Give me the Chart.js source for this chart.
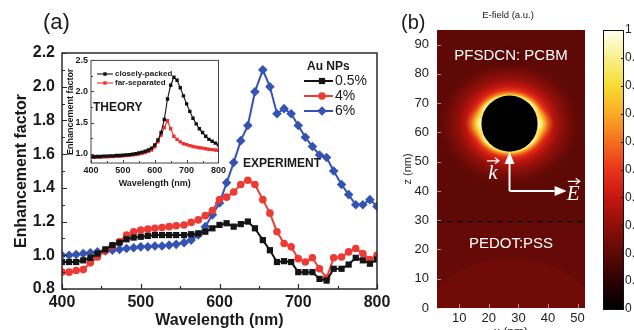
<!DOCTYPE html>
<html>
<head>
<meta charset="utf-8">
<script src="https://cdn.jsdelivr.net/npm/chart.js@4.4.1/dist/chart.umd.min.js"></script>
<style>
  html, body { margin: 0; padding: 0; background: #fff; }
  #wrap { position: relative; width: 634px; height: 330px; overflow: hidden; background: #fff; }
  canvas { position: absolute; }
  #mainChart { left: 0; top: 0; }
  #insetChart { left: 63px; top: 52px; }
  #fieldChart { left: 400px; top: 0; }
  #cbChart { left: 603px; top: 0; }
</style>
</head>
<body>
<div id="wrap">
  <canvas id="mainChart" width="400" height="330"></canvas>
  <canvas id="insetChart" width="165" height="138"></canvas>
  <canvas id="fieldChart" width="234" height="330"></canvas>
  <canvas id="cbChart" width="31" height="330"></canvas>
</div>
<script>
// ---- (a) experiment: enhancement factor vs wavelength ----
const wavelength = [400, 409, 418, 427, 436, 445, 455, 464, 473, 482, 491, 500, 509, 518, 527,
  536, 545, 555, 564, 573, 582, 591, 600, 609, 618, 627, 636, 645, 655, 664, 673, 682, 691,
  700, 709, 718, 727, 736, 745, 755, 764, 773, 782, 791, 800];
const np05 = [0.96, 0.96, 0.96, 0.97, 0.985, 1.01, 1.035, 1.06, 1.075, 1.095, 1.105, 1.11, 1.115,
  1.12, 1.12, 1.12, 1.12, 1.12, 1.125, 1.13, 1.14, 1.16, 1.18, 1.19, 1.17, 1.185, 1.20, 1.16,
  1.09, 1.03, 0.96, 0.965, 0.96, 0.90, 0.90, 0.90, 0.86, 0.85, 0.92, 0.92, 0.945, 0.985, 0.97,
  0.95, 0.975];
const np4 = [0.90, 0.90, 0.91, 0.915, 0.955, 0.99, 1.025, 1.055, 1.08, 1.12, 1.14, 1.15, 1.155,
  1.16, 1.165, 1.17, 1.175, 1.18, 1.195, 1.21, 1.235, 1.265, 1.33, 1.345, 1.375, 1.42, 1.445,
  1.42, 1.33, 1.25, 1.14, 1.07, 1.05, 0.98, 0.96, 0.985, 0.92, 0.865, 0.985, 0.99, 1.02, 1.04,
  1.01, 0.975, 1.0];
const np6 = [1.00, 1.00, 1.005, 1.01, 1.015, 1.02, 1.025, 1.03, 1.035, 1.04, 1.045, 1.05, 1.05,
  1.055, 1.055, 1.06, 1.065, 1.075, 1.09, 1.12, 1.17, 1.24, 1.31, 1.43, 1.55, 1.68, 1.77, 1.97,
  2.10, 2.00, 1.84, 1.87, 1.84, 1.77, 1.70, 1.645, 1.595, 1.58, 1.50, 1.42, 1.36, 1.30, 1.30,
  1.33, 1.29];
const seriesLabels = ['0.5%', '4%', '6%'];
const xTicksMain = [400, 500, 600, 700, 800];
const yTicksMain = [0.8, 1.0, 1.2, 1.4, 1.6, 1.8, 2.0, 2.2];

// ---- (a) inset: theory ----
const wlTheory = [400, 410, 420, 430, 440, 450, 460, 470, 480, 490, 500, 510, 520, 530, 540,
  550, 560, 570, 580, 590, 600, 610, 620, 630, 640, 650, 660, 670, 680, 690, 700, 710, 720,
  730, 740, 750, 760, 770, 780, 790, 800];
const closelyPacked = [0.95, 0.95, 0.955, 0.955, 0.96, 0.96, 0.965, 0.965, 0.97, 0.97, 0.975,
  0.98, 0.985, 0.99, 1.0, 1.01, 1.025, 1.04, 1.06, 1.09, 1.14, 1.22, 1.34, 1.55, 1.88, 2.10,
  2.23, 2.18, 2.06, 1.93, 1.80, 1.68, 1.57, 1.48, 1.40, 1.34, 1.28, 1.23, 1.20, 1.17, 1.14];
const farSeparated = [0.94, 0.94, 0.945, 0.945, 0.95, 0.95, 0.955, 0.955, 0.96, 0.96, 0.965,
  0.97, 0.975, 0.98, 0.985, 0.995, 1.005, 1.02, 1.04, 1.06, 1.11, 1.19, 1.30, 1.42, 1.53, 1.40,
  1.28, 1.23, 1.19, 1.16, 1.145, 1.13, 1.115, 1.105, 1.095, 1.09, 1.08, 1.07, 1.065, 1.06, 1.055];
const theoryLabels = ['closely-packed', 'far-separated'];
const xTicksInset = [400, 500, 600, 700, 800];
const yTicksInset = [1.0, 1.5, 2.0, 2.5];

// ---- (b) E-field map ----
const xTicksField = [10, 20, 30, 40, 50];
const zTicksField = [0, 10, 20, 30, 40, 50, 60, 70, 80, 90];
const cbTicks = [0, 0.1, 0.2, 0.3, 0.4, 0.5, 0.6, 0.7, 0.8, 0.9, 1];
const cmapColors = ['#000000', '#2b0201', '#5e0906', '#8e0f09', '#c4170e', '#e8341a',
  '#f4701e', '#f8ab25', '#f6dc33', '#f8f08a', '#fffff2'];

const FONT = "'Liberation Sans', Arial, Helvetica, sans-serif";
const FONT_B = "'Liberation Sans Narrow', 'Arial Narrow', 'Liberation Sans', Arial, sans-serif";
const SERIF = "'Liberation Serif', 'DejaVu Serif', serif";
const C_BLACK = '#141414', C_RED = '#ec3b34', C_BLUE = '#3553b1';

const pts = (xs, ys) => xs.map((v, i) => ({ x: v, y: ys[i] }));
const fixedTicks = arr => scale => { scale.ticks = arr.map(v => ({ value: v })); };
const noGrid = { display: false, drawTicks: false };

function drawMarker(ctx, style, r, x, y) {
  if (Chart.helpers && Chart.helpers.drawPoint) {
    Chart.helpers.drawPoint(ctx, { pointStyle: style, radius: r, borderWidth: 0, rotation: 0 }, x, y);
    return;
  }
  ctx.beginPath();
  ctx.arc(x, y, r, 0, Math.PI * 2);
  ctx.fill();
}

// 坐标框和朝内的刻度
function makeFrameTicks(cfg) {
  return {
    id: 'frameTicks',
    afterDatasetsDraw(chart) {
      const { ctx, chartArea: a } = chart;
      const xs = chart.scales.x, ys = chart.scales.y;
      const mids = t => t.slice(1).map((v, i) => (v + t[i]) / 2);
      ctx.save();
      ctx.strokeStyle = cfg.color;
      ctx.lineWidth = cfg.tickWidth;
      ctx.beginPath();
      const xMarks = [[cfg.xTicks, cfg.major]];
      const yMarks = [[cfg.yTicks, cfg.major]];
      if (cfg.minor) { xMarks.push([mids(cfg.xTicks), cfg.minor]); yMarks.push([mids(cfg.yTicks), cfg.minor]); }
      xMarks.forEach(([vals, len]) => vals.forEach(v => {
        const p = Math.round(xs.getPixelForValue(v)) + 0.5;
        ctx.moveTo(p, a.bottom); ctx.lineTo(p, a.bottom - len);
      }));
      yMarks.forEach(([vals, len]) => vals.forEach(v => {
        const p = Math.round(ys.getPixelForValue(v)) + 0.5;
        ctx.moveTo(a.left, p); ctx.lineTo(a.left + len, p);
      }));
      ctx.stroke();
      if (cfg.frameWidth) {
        ctx.lineWidth = cfg.frameWidth;
        ctx.strokeRect(a.left, a.top, a.right - a.left, a.bottom - a.top);
      }
      ctx.restore();
    }
  };
}

// 图例：线段 + 标记 + 文字
function makeLegend(cfg) {
  return {
    id: 'seriesLegend',
    afterDatasetsDraw(chart) {
      const ctx = chart.ctx;
      ctx.save();
      ctx.textBaseline = 'middle';
      ctx.textAlign = 'left';
      ctx.fillStyle = cfg.color;
      if (cfg.title) { ctx.font = cfg.titleFont; ctx.fillText(cfg.title, cfg.titleX, cfg.titleY); }
      ctx.font = cfg.font;
      chart.data.datasets.forEach((ds, i) => {
        const y = cfg.y + i * cfg.rowH;
        ctx.strokeStyle = ds.borderColor;
        ctx.lineWidth = ds.borderWidth;
        ctx.beginPath(); ctx.moveTo(cfg.x, y); ctx.lineTo(cfg.x + cfg.lineLen, y); ctx.stroke();
        ctx.fillStyle = ds.backgroundColor;
        drawMarker(ctx, ds.pointStyle, ds.pointRadius, cfg.x + cfg.markerAt, y);
        ctx.fillStyle = cfg.color;
        ctx.fillText(ds.label, cfg.x + cfg.lineLen + cfg.gap, y);
      });
      ctx.restore();
    }
  };
}

function makeText(items) {
  return {
    id: 'textMarks',
    afterDraw(chart) {
      const ctx = chart.ctx;
      ctx.save();
      items.forEach(t => {
        ctx.font = t.font;
        ctx.fillStyle = t.color || '#1a1a1a';
        ctx.textAlign = t.align || 'left';
        ctx.textBaseline = 'middle';
        ctx.fillText(t.text, t.x, t.y);
      });
      ctx.restore();
    }
  };
}

// ---------- 主图 (a) ----------
new Chart(document.getElementById('mainChart'), {
  type: 'line',
  data: {
    datasets: [
      { label: seriesLabels[0], data: pts(wavelength, np05), borderColor: C_BLACK, backgroundColor: C_BLACK,
        pointStyle: 'rect', pointRadius: 4.4, pointBorderWidth: 0, borderWidth: 2 },
      { label: seriesLabels[1], data: pts(wavelength, np4), borderColor: C_RED, backgroundColor: C_RED,
        pointStyle: 'circle', pointRadius: 3.8, pointBorderWidth: 0, borderWidth: 2 },
      { label: seriesLabels[2], data: pts(wavelength, np6), borderColor: C_BLUE, backgroundColor: C_BLUE,
        pointStyle: 'rectRot', pointRadius: 4.8, pointBorderWidth: 0, borderWidth: 2 }
    ]
  },
  options: {
    responsive: false,
    animation: false,
    devicePixelRatio: 1,
    layout: { padding: { left: 0, top: 53, right: 23, bottom: 0 } },
    elements: { line: { tension: 0 } },
    plugins: { legend: { display: false }, tooltip: { enabled: false } },
    scales: {
      x: {
        type: 'linear', min: 400, max: 800,
        afterBuildTicks: fixedTicks(xTicksMain),
        afterFit: s => { s.height = 41; },
        grid: noGrid, border: { display: false },
        ticks: { padding: 4, color: '#1a1a1a', maxRotation: 0, autoSkip: false,
          font: { family: FONT, size: 16, weight: 'bold' } },
        title: { display: true, text: 'Wavelength (nm)', color: '#1a1a1a',
          font: { family: FONT, size: 16, weight: 'bold' }, padding: { top: 0, bottom: 0 } }
      },
      y: {
        type: 'linear', min: 0.8, max: 2.2,
        afterBuildTicks: fixedTicks(yTicksMain),
        afterFit: s => { s.width = 62; },
        grid: noGrid, border: { display: false },
        ticks: { padding: 7, color: '#1a1a1a', autoSkip: false, callback: v => v.toFixed(1),
          font: { family: FONT, size: 16, weight: 'bold' } },
        title: { display: true, text: 'Enhancement factor', color: '#1a1a1a',
          font: { family: FONT, size: 16, weight: 'bold' }, padding: { top: 12, bottom: 0 } }
      }
    }
  },
  plugins: [
    makeFrameTicks({ color: '#2a2a2a', tickWidth: 1.2, frameWidth: 1.5, major: 5, minor: 3,
      xTicks: xTicksMain, yTicks: yTicksMain }),
    makeLegend({ title: 'Au NPs', titleX: 307, titleY: 67, titleFont: `bold 12px ${FONT}`,
      font: `14px ${FONT}`, color: '#1a1a1a', x: 304, y: 81, rowH: 15, lineLen: 29, markerAt: 18, gap: 2 }),
    makeText([
      { text: '(a)', x: 43, y: 23, font: `22px ${FONT}` },
      { text: 'EXPERIMENT', x: 243, y: 164, font: `bold 12px ${FONT}` }
    ])
  ]
});

// ---------- 插图 THEORY ----------
new Chart(document.getElementById('insetChart'), {
  type: 'line',
  data: {
    datasets: [
      { label: theoryLabels[0], data: pts(wlTheory, closelyPacked), borderColor: '#111', backgroundColor: '#111',
        pointStyle: 'rect', pointRadius: 2.4, pointBorderWidth: 0, borderWidth: 1.1 },
      { label: theoryLabels[1], data: pts(wlTheory, farSeparated), borderColor: '#ee3030', backgroundColor: '#ee3030',
        pointStyle: 'rect', pointRadius: 2.4, pointBorderWidth: 0, borderWidth: 1.1 }
    ]
  },
  options: {
    responsive: false,
    animation: false,
    devicePixelRatio: 1,
    layout: { padding: { left: 0, top: 8, right: 8, bottom: 0 } },
    elements: { line: { tension: 0 } },
    plugins: { legend: { display: false }, tooltip: { enabled: false } },
    scales: {
      x: {
        type: 'linear', min: 400, max: 800,
        afterBuildTicks: fixedTicks(xTicksInset),
        afterFit: s => { s.height = 27; },
        grid: noGrid, border: { display: false },
        ticks: { padding: 2, color: '#1a1a1a', maxRotation: 0, autoSkip: false,
          font: { family: FONT, size: 9, weight: 'bold' } },
        title: { display: true, text: 'Wavelength (nm)', color: '#1a1a1a',
          font: { family: FONT, size: 9, weight: 'bold' }, padding: { top: 0, bottom: 1 } }
      },
      y: {
        type: 'linear', min: 0.85, max: 2.5,
        afterBuildTicks: fixedTicks(yTicksInset),
        afterFit: s => { s.width = 28; },
        grid: noGrid, border: { display: false },
        ticks: { padding: 3, color: '#1a1a1a', autoSkip: false, callback: v => v.toFixed(1),
          font: { family: FONT, size: 9, weight: 'bold' } },
        title: { display: true, text: 'Enhancement factor', color: '#1a1a1a',
          font: { family: FONT, size: 9, weight: 'bold' }, padding: { top: 2.5, bottom: 0 } }
      }
    }
  },
  plugins: [
    makeFrameTicks({ color: '#444', tickWidth: 1, frameWidth: 1, major: 3, minor: 2,
      xTicks: xTicksInset, yTicks: yTicksInset }),
    makeLegend({ font: `bold 8px ${FONT}`, color: '#1a1a1a', x: 34, y: 22, rowH: 9,
      lineLen: 16, markerAt: 8, gap: 2 }),
    makeText([{ text: 'THEORY', x: 30, y: 56, font: `bold 12px ${FONT}` }])
  ]
});

// ---------- (b) 电场分布 ----------
function hexToRgb(h) {
  const n = parseInt(h.slice(1), 16);
  return [(n >> 16) & 255, (n >> 8) & 255, n & 255];
}
function cmap(level, alpha = 1) {
  const t = Math.max(0, Math.min(1, level));
  let i = 0;
  while (i < cbTicks.length - 2 && t > cbTicks[i + 1]) i++;
  const f = (t - cbTicks[i]) / (cbTicks[i + 1] - cbTicks[i]);
  const c0 = hexToRgb(cmapColors[i]), c1 = hexToRgb(cmapColors[i + 1]);
  const c = c0.map((v, k) => Math.round(v + (c1[k] - v) * f));
  return `rgba(${c[0]},${c[1]},${c[2]},${alpha})`;
}

function arrow(ctx, x0, y0, x1, y1, head, width) {
  const ang = Math.atan2(y1 - y0, x1 - x0);
  const bx = x1 - head * Math.cos(ang), by = y1 - head * Math.sin(ang);
  ctx.beginPath(); ctx.moveTo(x0, y0); ctx.lineTo(bx, by); ctx.stroke();
  ctx.beginPath();
  ctx.moveTo(x1, y1);
  ctx.lineTo(bx + width / 2 * Math.sin(ang), by - width / 2 * Math.cos(ang));
  ctx.lineTo(bx - width / 2 * Math.sin(ang), by + width / 2 * Math.cos(ang));
  ctx.closePath(); ctx.fill();
}
function vecMark(ctx, x, y) {
  ctx.beginPath();
  ctx.moveTo(x - 6, y); ctx.lineTo(x + 6, y);
  ctx.moveTo(x + 2, y - 3); ctx.lineTo(x + 6, y); ctx.lineTo(x + 2, y + 3);
  ctx.stroke();
}

const particle = { x: 27, z: 63, r: 9.5 };
const interfaceZ = 29.5;

const fieldMap = {
  id: 'fieldMap',
  beforeDatasetsDraw(chart) {
    const { ctx, chartArea: a, scales } = chart;
    const X = v => scales.x.getPixelForValue(v), Z = v => scales.y.getPixelForValue(v);
    const cx = X(particle.x), cz = Z(particle.z), R = X(particle.x + particle.r) - cx;
    ctx.save();
    ctx.beginPath(); ctx.rect(a.left, a.top, a.right - a.left, a.bottom - a.top); ctx.clip();
    // 活性层背景
    ctx.fillStyle = cmap(0.2);
    ctx.fillRect(a.left, a.top, a.right - a.left, a.bottom - a.top);
    // 粒子上方的暗区
    let g = ctx.createRadialGradient(cx, Z(82), 0, cx, Z(82), R * 1.1);
    g.addColorStop(0, cmap(0.15)); g.addColorStop(1, cmap(0.2, 0));
    ctx.fillStyle = g;
    ctx.fillRect(a.left, a.top, a.right - a.left, a.bottom - a.top);
    // 粒子周围的光晕
    ctx.save();
    ctx.translate(cx, cz); ctx.scale(1.08, 0.96); ctx.translate(-cx, -cz);
    g = ctx.createRadialGradient(cx, cz, R, cx, cz, R * 2.4);
    [[0, 0.95], [0.04, 0.82], [0.1, 0.62], [0.18, 0.48], [0.3, 0.39], [0.48, 0.31], [0.72, 0.24], [1, 0.2]]
      .forEach(([s, lv], i, arr) => g.addColorStop(s, cmap(lv, i === arr.length - 1 ? 0 : 1)));
    ctx.fillStyle = g;
    ctx.beginPath(); ctx.arc(cx, cz, R * 2.4, 0, Math.PI * 2); ctx.fill();
    ctx.restore();
    // 左右两侧的热点
    [-1, 1].forEach(s => {
      const hx = cx + s * R * 0.98;
      const h = ctx.createRadialGradient(hx, cz, 0, hx, cz, R * 0.6);
      h.addColorStop(0, cmap(1, 1)); h.addColorStop(0.4, cmap(0.8, 0.7)); h.addColorStop(1, cmap(0.6, 0));
      ctx.fillStyle = h;
      ctx.beginPath(); ctx.arc(hx, cz, R * 0.6, 0, Math.PI * 2); ctx.fill();
    });
    // 金纳米粒子
    ctx.fillStyle = cmap(0);
    ctx.beginPath(); ctx.arc(cx, cz, R, 0, Math.PI * 2); ctx.fill();
    // PEDOT:PSS 层
    const zi = Z(interfaceZ);
    ctx.fillStyle = cmap(0.215);
    ctx.fillRect(a.left, zi, a.right - a.left, a.bottom - zi);
    ctx.fillStyle = cmap(0.24);
    ctx.beginPath();
    ctx.ellipse(X(27.5), Z(-8), X(27.5 + 31) - X(27.5), Z(-8) - Z(17), 0, 0, Math.PI * 2);
    ctx.fill();
    // 界面虚线
    ctx.strokeStyle = '#000';
    ctx.lineWidth = 1.2;
    ctx.setLineDash([6, 4]);
    ctx.beginPath(); ctx.moveTo(a.left, zi); ctx.lineTo(a.right, zi); ctx.stroke();
    ctx.restore();
  },
  afterDatasetsDraw(chart) {
    const { ctx, chartArea: a, scales } = chart;
    const X = v => scales.x.getPixelForValue(v), Z = v => scales.y.getPixelForValue(v);
    ctx.save();
    // 文字
    ctx.fillStyle = '#fff';
    ctx.textAlign = 'center';
    ctx.textBaseline = 'middle';
    ctx.font = `15px ${FONT}`;
    ctx.fillText('PFSDCN: PCBM', X(27.5), Z(86));
    ctx.fillText('PEDOT:PSS', X(27.5), Z(22));
    // 入射方向 k 与偏振 E
    ctx.strokeStyle = '#fff';
    ctx.lineWidth = 2;
    arrow(ctx, X(27), Z(40), X(27), Z(53.3), 12, 10);
    arrow(ctx, X(27), Z(40), X(46.3), Z(40), 12, 10);
    ctx.font = `italic 21px ${SERIF}`;
    ctx.fillText('k', X(21.4), Z(46));
    ctx.fillText('E', X(48.5), Z(38.8));
    ctx.lineWidth = 1.2;
    vecMark(ctx, X(21.4), Z(50.3));
    vecMark(ctx, X(48.7), Z(43.3));
    // 刻度
    ctx.strokeStyle = 'rgba(200,200,200,0.7)';
    ctx.lineWidth = 1;
    ctx.beginPath();
    xTicksField.forEach(v => { const p = Math.round(X(v)) + 0.5; ctx.moveTo(p, a.bottom); ctx.lineTo(p, a.bottom - 4); });
    zTicksField.forEach(v => { const p = Math.round(Z(v)) + 0.5; ctx.moveTo(a.left, p); ctx.lineTo(a.left + 4, p); });
    ctx.stroke();
    // 标题
    ctx.fillStyle = '#1a1a1a';
    ctx.font = `9.5px ${FONT}`;
    ctx.fillText('E-field (a.u.)', (a.left + a.right) / 2 - 3, 15);
    ctx.font = `20px ${FONT}`;
    ctx.textAlign = 'left';
    ctx.fillText('(b)', 1, 23);
    ctx.restore();
  }
};

new Chart(document.getElementById('fieldChart'), {
  type: 'scatter',
  data: { datasets: [{ data: [] }] },
  options: {
    responsive: false,
    animation: false,
    devicePixelRatio: 1,
    layout: { padding: { left: 0, top: 30, right: 49, bottom: 0 } },
    plugins: { legend: { display: false }, tooltip: { enabled: false } },
    scales: {
      x: {
        type: 'linear', min: 2.5, max: 52.5,
        afterBuildTicks: fixedTicks(xTicksField),
        afterFit: s => { s.height = 22; },
        grid: noGrid, border: { display: false },
        ticks: { padding: 3, color: '#222', maxRotation: 0, autoSkip: false,
          font: { family: FONT_B, size: 13 } },
        title: { display: true, text: 'x (nm)', color: '#222',
          font: { family: FONT_B, size: 12 }, padding: { top: 0, bottom: -10 } }
      },
      y: {
        type: 'linear', min: 0, max: 95, position: 'left',
        afterBuildTicks: fixedTicks(zTicksField),
        afterFit: s => { s.width = 37; },
        grid: noGrid, border: { display: false },
        ticks: { padding: 8, color: '#222', autoSkip: false,
          font: { family: FONT_B, size: 13 } },
        title: { display: true, text: 'z (nm)', color: '#222',
          font: { family: FONT_B, size: 11 }, padding: { top: 1.5, bottom: 0 } }
      }
    }
  },
  plugins: [fieldMap]
});

// ---------- 色标 ----------
const colorBar = {
  id: 'colorBar',
  beforeDatasetsDraw(chart) {
    const { ctx, chartArea: a, scales: { y } } = chart;
    const top = y.getPixelForValue(1), bot = y.getPixelForValue(0);
    const lg = ctx.createLinearGradient(0, bot, 0, top);
    cbTicks.forEach((v, i) => lg.addColorStop(v, cmapColors[i]));
    ctx.save();
    ctx.fillStyle = lg;
    ctx.fillRect(a.left, top, a.right - a.left, bot - top);
    ctx.strokeStyle = '#111';
    ctx.lineWidth = 1;
    ctx.strokeRect(a.left + 0.5, top + 0.5, a.right - a.left - 1, bot - top);
    ctx.beginPath();
    cbTicks.forEach(v => {
      const p = Math.round(y.getPixelForValue(v)) + 0.5;
      ctx.moveTo(a.right, p); ctx.lineTo(a.right - 3, p);
    });
    ctx.stroke();
    ctx.restore();
  }
};

new Chart(document.getElementById('cbChart'), {
  type: 'scatter',
  data: { datasets: [{ data: [] }] },
  options: {
    responsive: false,
    animation: false,
    devicePixelRatio: 1,
    layout: { padding: { left: 0, top: 30, right: 0, bottom: 21 } },
    plugins: { legend: { display: false }, tooltip: { enabled: false } },
    scales: {
      x: { type: 'linear', display: false },
      y: {
        type: 'linear', min: 0, max: 1, position: 'right',
        afterBuildTicks: fixedTicks(cbTicks),
        afterFit: s => { s.width = 10; },
        grid: noGrid, border: { display: false },
        ticks: { padding: 1, color: '#222', autoSkip: false,
          callback: v => (v === 0 || v === 1) ? String(v) : v.toFixed(1),
          font: { family: FONT_B, size: 12 } }
      }
    }
  },
  plugins: [colorBar]
});
</script>
</body>
</html>
